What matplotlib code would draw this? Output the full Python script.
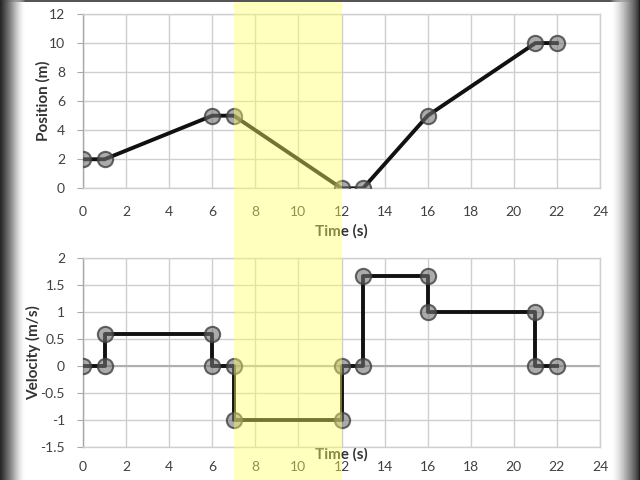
import matplotlib
matplotlib.use("Agg")
import matplotlib.pyplot as plt
import numpy as np
from matplotlib.patches import Rectangle

# position vs time
pos_t = [0, 1, 6, 7, 12, 13, 16, 21, 22]
pos_x = [2, 2, 5, 5, 0, 0, 5, 10, 10]

# velocity vs time (step shape)
vel_t = [0, 1, 1, 6, 6, 7, 7, 12, 12, 13, 13, 16, 16, 21, 21, 22]
vel_v = [0, 0, 0.6, 0.6, 0, 0, -1, -1, 0, 0, 1.667, 1.667, 1, 1, 0, 0]

band = (7, 12)

plt.rcParams['font.family'] = ['Lato', 'DejaVu Sans']
tick_col = '#404040'
grid_col = '#cfcfcf'

fig = plt.figure(figsize=(6.4, 4.8), dpi=100)
ax1 = fig.add_axes([0.1297, 0.6077, 0.8078, 0.3631])
ax2 = fig.add_axes([0.1297, 0.0694, 0.8078, 0.3925])


def style(ax):
  ax.set_xlim(0, 24)
  ax.set_xticks(np.arange(0, 25, 2))
  ax.grid(True, color=grid_col, linewidth=1)
  ax.set_axisbelow(True)
  for s in ax.spines.values():
    s.set_color(grid_col)
    s.set_linewidth(1)
  ax.spines['left'].set_color('#a8a8a8')
  ax.tick_params(axis='both', colors=tick_col, labelsize=10, length=0)
  ax.tick_params(axis='y', length=4, color='#a8a8a8', pad=9)


def draw(ax, t, v):
  ax.plot(t, v, color='#111111', linewidth=2.8, zorder=3)
  ax.plot(t, v, linestyle='none', marker='o', markersize=11,
          markerfacecolor=(0.45, 0.45, 0.45, 0.6),
          markeredgecolor=(0.25, 0.25, 0.25, 0.8), markeredgewidth=1.5, zorder=4)


style(ax1)
ax1.set_ylim(0, 12)
ax1.set_yticks(np.arange(0, 13, 2))
ax1.tick_params(axis='x', pad=13)
draw(ax1, pos_t, pos_x)
ax1.set_ylabel('Position (m)', fontsize=11, fontweight='bold', color='#333333')
ax1.set_xlabel('Time (s)', fontsize=11, fontweight='bold', color='#333333', labelpad=4)
ax1.yaxis.set_label_coords(-0.062, 0.5)

style(ax2)
ax2.set_ylim(-1.5, 2)
ax2.set_yticks(np.arange(-1.5, 2.01, 0.5))
ax2.set_yticklabels(['-1.5', '-1', '-0.5', '0', '0.5', '1', '1.5', '2'])
ax2.tick_params(axis='x', pad=10)
ax2.axhline(0, color='#b0b0b0', linewidth=1.5, zorder=1)
draw(ax2, vel_t, vel_v)
ax2.set_ylabel('Velocity (m/s)', fontsize=11, fontweight='bold', color='#333333')
ax2.set_xlabel('Time (s)', fontsize=11, fontweight='bold', color='#333333', labelpad=-18)
ax2.yaxis.set_label_coords(-0.082, 0.5)

# yellow highlight over the whole figure height, placed with the data scale
fig.canvas.draw()
x0 = ax1.transData.transform((band[0], 0))[0] / fig.bbox.width
x1 = ax1.transData.transform((band[1], 0))[0] / fig.bbox.width
fig.patches.append(Rectangle((x0, 0), x1 - x0, 1, transform=fig.transFigure,
                             facecolor=(1.0, 1.0, 0.4), alpha=0.42, zorder=10))

# dark frame at edges (video border)
fig.patches.append(Rectangle((0, 0.995), 1, 0.005, transform=fig.transFigure,
                             facecolor='#555555', zorder=11))
for i in range(26):
  g = i / 25
  fig.patches.append(Rectangle((i / 640, 0), 1 / 640, 1, transform=fig.transFigure,
                               facecolor=str(0.15 + 0.85 * g), edgecolor='none', zorder=11,
                               alpha=1 - g ** 3))
for i in range(30):
  g = i / 29
  fig.patches.append(Rectangle((1 - (i + 1) / 640, 0), 1 / 640, 1, transform=fig.transFigure,
                               facecolor=str(0.12 + 0.88 * g ** 0.7), edgecolor='none', zorder=11,
                               alpha=1 - g ** 3))

fig.savefig('out.png', dpi=100)
